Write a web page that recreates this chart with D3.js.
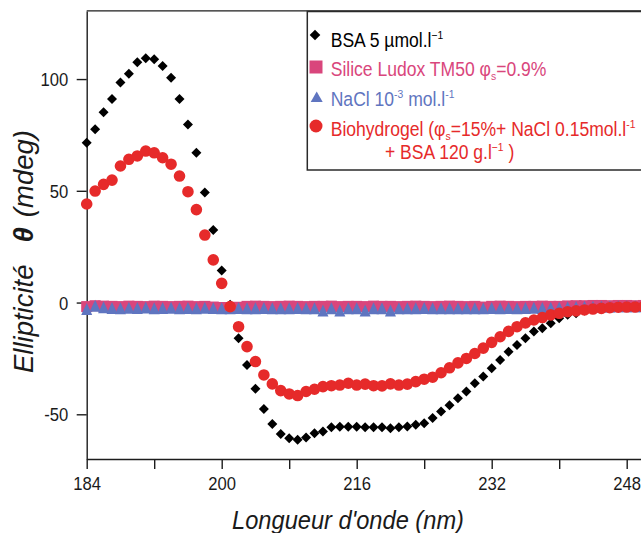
<!DOCTYPE html>
<html>
<head>
<meta charset="utf-8">
<script src="https://cdn.jsdelivr.net/npm/d3@7"></script>
<style>
  html, body { margin: 0; padding: 0; background: #ffffff; }
  svg { display: block; }
  text { font-family: "Liberation Sans", Arial, Helvetica, sans-serif; }
</style>
</head>
<body>
<script>
// ---------------- DATA ----------------
const wavelength = [184,185,186,187,188,189,190,191,192,193,194,195,196,197,198,199,200,201,202,203,204,205,206,207,208,209,210,211,212,213,214,215,216,217,218,219,220,221,222,223,224,225,226,227,228,229,230,231,232,233,234,235,236,237,238,239,240,241,242,243,244,245,246,247,248,249,250];

// BSA 5 µmol/l (black diamonds)
const bsa = [71.5,77.6,85.1,91.1,98.5,102.4,107.5,109.3,108.9,105.9,100.6,91.1,79.7,67.0,49.2,32.5,14.3,-1.0,-16.0,-27.9,-38.6,-47.6,-54.3,-58.8,-60.7,-61.4,-60.4,-58.5,-57.7,-55.8,-55.6,-55.6,-55.6,-55.8,-55.8,-55.8,-56.2,-55.8,-55.5,-54.7,-54.0,-51.7,-48.8,-46.0,-42.8,-39.8,-36.1,-33.1,-29.4,-25.7,-22.0,-19.0,-16.0,-13.0,-11.5,-9.3,-7.0,-5.5,-4.8,-3.6,-3.0,-2.6,-2.3,-2.0,-1.9,-1.8,-1.8];

// Silice Ludox TM50 (pink squares)
const silice = [-1.8,-1.4,-1.6,-1.7,-1.8,-1.6,-1.7,-1.8,-1.6,-1.7,-1.8,-1.7,-1.6,-1.8,-1.7,-2.0,-2.2,-2.2,-2.1,-1.7,-1.6,-1.7,-1.8,-1.7,-1.6,-1.7,-1.8,-1.7,-1.7,-1.6,-1.8,-1.7,-1.7,-1.8,-1.6,-1.7,-1.7,-1.8,-1.7,-1.6,-1.7,-1.8,-1.7,-1.6,-1.7,-1.8,-1.7,-2.0,-1.7,-1.6,-1.7,-1.8,-1.7,-1.7,-1.6,-1.7,-1.7,-1.5,-1.4,-1.4,-1.3,-1.3,-1.4,-1.3,-1.3,-1.4,-1.3];

// NaCl 1e-3 mol/l (blue triangles)
const nacl = [-2.9,-1.4,-2.1,-2.4,-2.5,-2.3,-2.4,-2.2,-2.5,-2.4,-2.3,-2.5,-2.4,-2.5,-2.3,-2.4,-2.6,-2.5,-2.4,-2.5,-2.6,-2.4,-2.5,-2.6,-2.5,-2.4,-2.6,-2.5,-3.5,-2.5,-3.5,-2.6,-2.5,-3.5,-2.5,-2.6,-3.5,-2.5,-2.6,-2.5,-2.4,-2.6,-2.5,-2.5,-2.6,-2.5,-2.6,-2.5,-2.4,-2.5,-2.4,-2.5,-2.4,-2.3,-2.4,-2.3,-2.2,-2.1,-2.0,-1.9,-1.9,-1.8,-1.8,-1.7,-1.7,-1.7,-1.7];

// Biohydrogel (red circles)
const biohydrogel = [44.1,49.9,52.9,54.8,61.1,64.1,65.6,67.8,67.0,64.8,61.9,56.6,49.6,41.6,30.2,19.1,8.6,-1.8,-10.8,-19.7,-26.4,-32.4,-36.4,-39.4,-40.9,-41.6,-39.8,-38.8,-37.6,-37.2,-36.9,-36.1,-36.9,-36.5,-37.2,-37.3,-36.4,-36.9,-36.5,-35.4,-34.3,-33.4,-31.4,-29.2,-27.0,-25.0,-22.8,-20.4,-17.8,-15.3,-12.9,-10.8,-9.1,-7.8,-6.7,-5.5,-4.8,-4.1,-3.7,-3.3,-2.9,-2.6,-2.3,-2.1,-2.0,-2.0,-1.9];

const xTickValues = [184,192,200,208,216,224,232,240,248];
const xTickLabels = [184,200,216,232,248];
const yTickValues = [-50,0,50,100];

// ---------------- LAYOUT ----------------
const W = 641, H = 533;
const plotLeft = 86.7, plotTop = 10.9, plotBottom = 459;
const pxPerNm = 8.4375;
const xDomain = [184, 250];
const yDomain = [-70, 130.5];

const svg = d3.select("body").append("svg").attr("width", W).attr("height", H);

const x = d3.scaleLinear().domain(xDomain).range([plotLeft, plotLeft + (xDomain[1]-xDomain[0])*pxPerNm]);
const y = d3.scaleLinear().domain(yDomain).range([plotBottom, plotTop]);

const COL = { black: "#000000", pink: "#d9467c", blue: "#5f75c0", red: "#e62a2a" };
const axisColor = "#1c1c1c";
const FS_TICK = 18.5, SX = 0.9;

// frame: top and right border
svg.append("line").attr("x1", x(xDomain[0])).attr("x2", x(xDomain[1]))
  .attr("y1", y(yDomain[1])).attr("y2", y(yDomain[1]))
  .attr("stroke", axisColor).attr("stroke-width", 1.4);
svg.append("line").attr("x1", x(xDomain[1])).attr("x2", x(xDomain[1]))
  .attr("y1", y(yDomain[0])).attr("y2", y(yDomain[1]))
  .attr("stroke", axisColor).attr("stroke-width", 1.4);

// axes
const gx = svg.append("g").attr("transform", `translate(0,${y(yDomain[0])})`)
  .call(d3.axisBottom(x).tickValues(xTickValues).tickSize(10).tickSizeOuter(0)
    .tickFormat(d => xTickLabels.includes(d) ? String(d) : ""));
const gy = svg.append("g").attr("transform", `translate(${x(xDomain[0])},0)`)
  .call(d3.axisLeft(y).tickValues(yTickValues).tickSize(10).tickSizeOuter(0).tickFormat(d => String(d)));

[gx, gy].forEach(g => {
  g.select(".domain").attr("stroke", axisColor).attr("stroke-width", 1.4);
  g.selectAll(".tick line").attr("stroke", axisColor).attr("stroke-width", 1.4);
  g.selectAll(".tick text").attr("fill", "#1a1a1a").attr("font-size", FS_TICK)
    .attr("font-family", '"Liberation Sans", Arial, sans-serif');
});
gx.selectAll(".tick text").attr("y", 31).attr("dy", null).attr("transform", `scale(${SX},1)`);
gy.selectAll(".tick text").attr("x", -18.4 / SX).attr("dy", "0.36em").attr("transform", `scale(${SX},1)`);

// ---------------- MARKERS ----------------
const diamondType = h => ({ draw(c) { c.moveTo(0,-h); c.lineTo(h,0); c.lineTo(0,h); c.lineTo(-h,0); c.closePath(); } });
const squareType = s => ({ draw(c) { c.rect(-s/2, -s/2, s, s); } });
const triType = (w, hh) => ({ draw(c) { c.moveTo(0,-hh/2); c.lineTo(w/2,hh/2); c.lineTo(-w/2,hh/2); c.closePath(); } });
const circleType = r => ({ draw(c) { c.moveTo(r,0); c.arc(0,0,r,0,2*Math.PI); } });

function drawSeries(values, type, color) {
  svg.append("g").selectAll("path").data(values).join("path")
    .attr("transform", (v, i) => `translate(${x(wavelength[i])},${y(v)})`)
    .attr("d", d3.symbol().type(type)())
    .attr("fill", color);
}

drawSeries(bsa, diamondType(5.0), COL.black);
drawSeries(silice, squareType(11), COL.pink);
drawSeries(nacl, triType(11, 12), COL.blue);
drawSeries(biohydrogel, circleType(5.8), COL.red);

// ---------------- LEGEND ----------------
const lg = svg.append("g");
lg.append("rect").attr("x", 307.3).attr("y", 11.5).attr("width", 400).attr("height", 158.5)
  .attr("fill", "#ffffff").attr("stroke", "#2a2a2a").attr("stroke-width", 1.5);

const FS_LEG = 19.5;
function legendText(px, py, parts, color) {
  const t = lg.append("g").attr("transform", `translate(${px},${py}) scale(${SX},1)`)
    .append("text").attr("x", 0).attr("y", 0).attr("fill", color).attr("font-size", FS_LEG);
  let shift = 0;
  parts.forEach(p => {
    const sp = t.append("tspan").text(p.t);
    let target = 0, fs = FS_LEG;
    if (p.sup) { target = -8; fs = 11.5; }
    if (p.sub) { target = 4; fs = 11.5; }
    sp.attr("dy", target - shift).attr("font-size", fs);
    shift = target;
  });
}

lg.append("path").attr("transform", "translate(315,35)").attr("d", d3.symbol().type(diamondType(5.3))()).attr("fill", COL.black);
legendText(330.7, 46.7, [{t:"BSA 5 µmol.l"},{t:"−1", sup:true}], COL.black);

lg.append("path").attr("transform", "translate(316,67)").attr("d", d3.symbol().type(squareType(13))()).attr("fill", COL.pink);
legendText(330.7, 76, [{t:"Silice Ludox TM50 φ"},{t:"s", sub:true},{t:"=0.9%"}], COL.pink);

lg.append("path").attr("transform", "translate(316.7,96.7)").attr("d", d3.symbol().type(triType(12, 10.5))()).attr("fill", COL.blue);
legendText(330.7, 105.5, [{t:"NaCl 10"},{t:"-3", sup:true},{t:" mol.l"},{t:"-1", sup:true}], COL.blue);

lg.append("path").attr("transform", "translate(316,126)").attr("d", d3.symbol().type(circleType(6.5))()).attr("fill", COL.red);
legendText(330.7, 135.5, [{t:"Biohydrogel (φ"},{t:"s", sub:true},{t:"=15%+ NaCl 0.15mol.l"},{t:"-1", sup:true}], COL.red);
legendText(385, 159.3, [{t:"+ BSA 120 g.l"},{t:"−1", sup:true},{t:" )"}], COL.red);

// ---------------- AXIS TITLES ----------------
svg.append("g").attr("transform", `translate(348,529) scale(0.91,1)`)
  .append("text").attr("text-anchor", "middle").attr("font-style", "italic")
  .attr("font-size", 26).attr("fill", "#1a1a1a").text("Longueur d'onde (nm)");

const yt = svg.append("text").attr("transform", "translate(33,251.5) rotate(-90)")
  .attr("text-anchor", "middle").attr("font-style", "italic").attr("font-size", 27.5).attr("fill", "#1a1a1a");
yt.append("tspan").text("Ellipticité");
yt.append("tspan").attr("dx", 22).attr("font-weight", "bold").text("θ");
yt.append("tspan").attr("dx", 10).text("(mdeg)");
</script>
</body>
</html>
